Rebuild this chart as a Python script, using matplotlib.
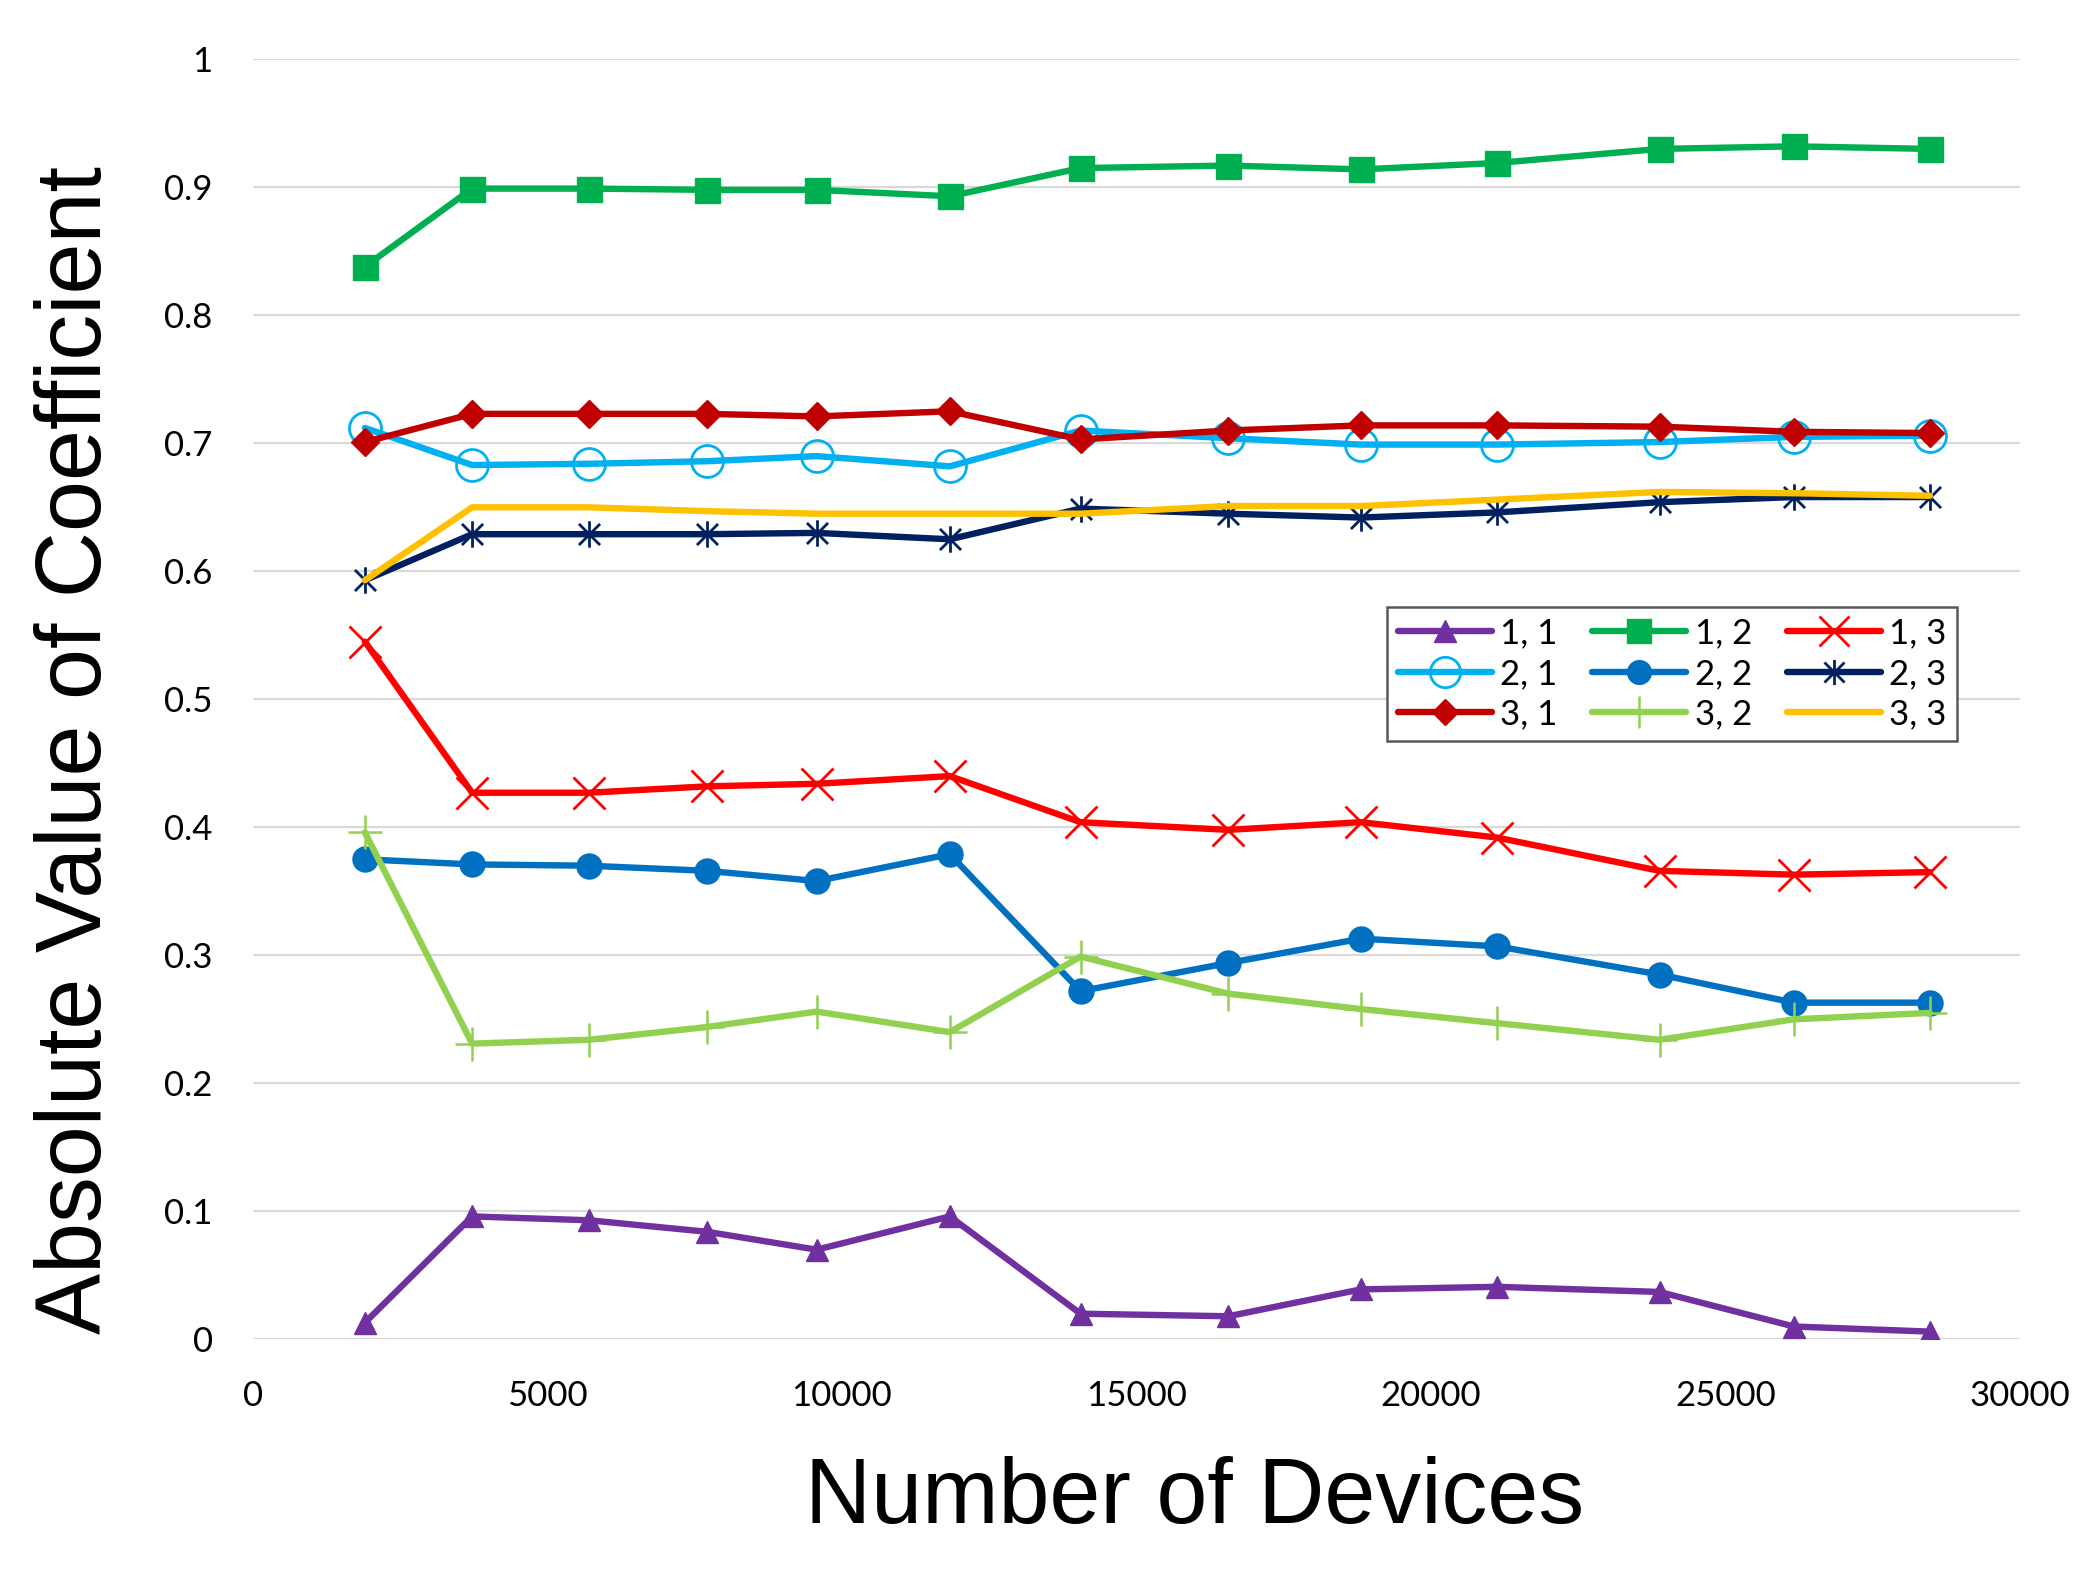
import matplotlib
matplotlib.use("Agg")
import matplotlib.pyplot as plt
from matplotlib.path import Path

# ---- data ----
devices = [1900, 3720, 5700, 7710, 9570, 11830, 14050, 16560, 18810, 21120, 23880, 26160, 28470]

c11 = [0.013, 0.096, 0.093, 0.084, 0.070, 0.096, 0.020, 0.018, 0.039, 0.041, 0.037, 0.010, 0.006]
c12 = [0.838, 0.899, 0.899, 0.898, 0.898, 0.893, 0.915, 0.917, 0.914, 0.919, 0.930, 0.932, 0.930]
c13 = [0.545, 0.427, 0.427, 0.432, 0.434, 0.440, 0.404, 0.398, 0.404, 0.392, 0.366, 0.363, 0.365]
c21 = [0.712, 0.683, 0.684, 0.686, 0.690, 0.682, 0.710, 0.704, 0.699, 0.699, 0.701, 0.705, 0.706]
c22 = [0.375, 0.371, 0.370, 0.366, 0.358, 0.379, 0.272, 0.294, 0.313, 0.307, 0.285, 0.263, 0.263]
c23 = [0.593, 0.629, 0.629, 0.629, 0.630, 0.625, 0.649, 0.645, 0.642, 0.646, 0.654, 0.658, 0.658]
c31 = [0.701, 0.723, 0.723, 0.723, 0.721, 0.725, 0.703, 0.710, 0.714, 0.714, 0.713, 0.709, 0.708]
c32 = [0.396, 0.231, 0.234, 0.244, 0.256, 0.240, 0.299, 0.270, 0.258, 0.247, 0.234, 0.250, 0.255]
c33 = [0.593, 0.650, 0.650, 0.647, 0.645, 0.645, 0.645, 0.651, 0.651, 0.656, 0.662, 0.661, 0.659]

labels = ["1, 1", "1, 2", "1, 3", "2, 1", "2, 2", "2, 3", "3, 1", "3, 2", "3, 3"]
x_ticks = [0, 5000, 10000, 15000, 20000, 25000, 30000]
y_ticks = [0, 0.1, 0.2, 0.3, 0.4, 0.5, 0.6, 0.7, 0.8, 0.9, 1]

# ---- styles ----
asterisk = Path([(-1, -1), (1, 1), (-1, 1), (1, -1), (0, -1.25), (0, 1.25)],
                [Path.MOVETO, Path.LINETO, Path.MOVETO, Path.LINETO, Path.MOVETO, Path.LINETO])

styles = [
    dict(color="#7030A0", marker="^", markersize=16),
    dict(color="#00B050", marker="s", markersize=18),
    dict(color="#FF0000", marker="x", markersize=23, markeredgewidth=2.0),
    dict(color="#00B0F0", marker="o", markersize=23, markerfacecolor="none", markeredgewidth=2.0),
    dict(color="#0070C0", marker="o", markersize=18),
    dict(color="#002060", marker=asterisk, markersize=19, markeredgewidth=2.0),
    dict(color="#C00000", marker="D", markersize=14),
    dict(color="#92D050", marker="+", markersize=24, markeredgewidth=1.8),
    dict(color="#FFC000", marker=None),
]
series = [c11, c12, c13, c21, c22, c23, c31, c32, c33]

tick_font = "Lato"
title_font = "Liberation Sans"

fig = plt.figure(figsize=(20.99, 15.71), dpi=100)
ax = fig.add_axes([253 / 2099, 1 - 1339.3 / 1571, (2020 - 253) / 2099, (1339.3 - 59.3) / 1571])

handles = []
for vals, lab, st in zip(series, labels, styles):
    h, = ax.plot(devices, vals, linewidth=4.6, label=lab, solid_joinstyle="round",
                 solid_capstyle="round", **st)
    handles.append(h)

ax.set_xlim(0, 30000)
ax.set_ylim(0, 1)
ax.set_xticks(x_ticks)
ax.set_xticklabels([str(v) for v in x_ticks])
ax.set_yticks(y_ticks)
ax.set_yticklabels([f"{v:g}" for v in y_ticks])
ax.tick_params(length=0, labelsize=25, pad=29)
for lab in ax.get_xticklabels() + ax.get_yticklabels():
    lab.set_fontfamily(tick_font)
ax.grid(axis="y", color="#D9D9D9", linewidth=1.6)
ax.set_axisbelow(True)
for sp in ax.spines.values():
    sp.set_visible(False)

fig.text(1195 / 2099, 1 - 1499 / 1571, "Number of Devices", ha="center", va="center",
         fontsize=66, family=title_font)
fig.text(77 / 2099, 1 - 750 / 1571, "Absolute Value of Coefficient", ha="center", va="center",
         rotation=90, fontsize=66, family=title_font)

order = [0, 3, 6, 1, 4, 7, 2, 5, 8]
leg = ax.legend([handles[i] for i in order], [labels[i] for i in order], ncol=3,
                loc="upper left", bbox_to_anchor=((1387.5 - 253) / 1767, (1339.3 - 606.7) / 1280),
                borderaxespad=0, fancybox=False, frameon=True, edgecolor="#595959",
                framealpha=1, prop={"family": tick_font, "size": 25},
                handlelength=2.7, handletextpad=0.25, columnspacing=1.0,
                labelspacing=0.25, borderpad=0.3, markerscale=0.95)
leg.get_frame().set_linewidth(1.8)

fig.savefig("out.png", dpi=100)
